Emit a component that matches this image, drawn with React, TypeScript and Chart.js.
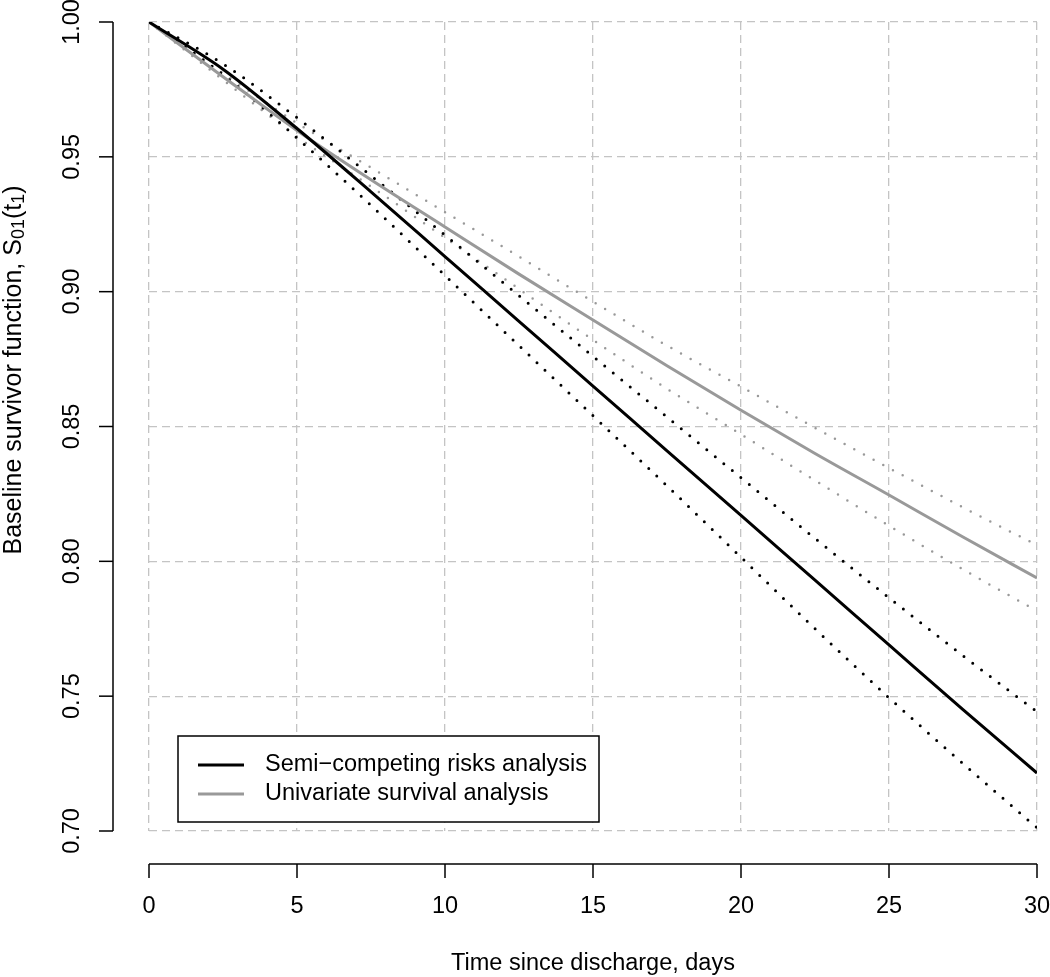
import React, { useEffect, useRef } from "react";
import { Chart, registerables } from "chart.js";

Chart.register(...registerables);

// time points (days)
const times = [0, 2.5, 5, 7.5, 10, 12.5, 15, 17.5, 20, 22.5, 25, 27.5, 30];

// Semi-competing risks analysis: estimate and pointwise bounds
const semiEstimate = [1.0, 0.9825, 0.9605, 0.937, 0.913, 0.889, 0.865, 0.841, 0.817, 0.793, 0.769, 0.745, 0.7215];
const semiUpper = [1.0, 0.9845, 0.9645, 0.943, 0.921, 0.8985, 0.876, 0.8535, 0.831, 0.8085, 0.7865, 0.765, 0.7442];
const semiLower = [1.0, 0.9805, 0.957, 0.932, 0.906, 0.88, 0.854, 0.828, 0.8015, 0.775, 0.7494, 0.725, 0.7012];

// Univariate survival analysis: estimate and pointwise bounds
const uniEstimate = [1.0, 0.9797, 0.9598, 0.9415, 0.924, 0.9065, 0.8895, 0.8725, 0.856, 0.84, 0.8246, 0.809, 0.7938];
const uniUpper = [1.0, 0.981, 0.9625, 0.946, 0.9295, 0.913, 0.8963, 0.88, 0.8648, 0.8495, 0.8346, 0.82, 0.806];
const uniLower = [1.0, 0.9785, 0.9575, 0.939, 0.92, 0.901, 0.8821, 0.864, 0.8471, 0.83, 0.8132, 0.797, 0.7816];

const xTicks = [0, 5, 10, 15, 20, 25, 30];
const yTicks = [0.7, 0.75, 0.8, 0.85, 0.9, 0.95, 1.0];
const yTickLabels = ["0.70", "0.75", "0.80", "0.85", "0.90", "0.95", "1.00"];

const legendLabels = ["Semi\u2212competing risks analysis", "Univariate survival analysis"];
const xTitle = "Time since discharge, days";

const FONT = '"Liberation Sans", Arial, Helvetica, sans-serif';
const BLACK = "#000000";
const GRAY = "#999999";
const FS = 23.5;
const YTITLE_FS = 25;

const pts = (vals: number[]) => times.map((t, i) => ({ x: t, y: vals[i] }));

const rAxesPlugin = {
  id: "rAxes",
  afterDraw(chart: any) {
    const ctx = chart.ctx as CanvasRenderingContext2D;
    const xs = chart.scales.x;
    const ys = chart.scales.y;
    const area = chart.chartArea;
    ctx.save();
    ctx.strokeStyle = "#000";
    ctx.fillStyle = "#000";
    ctx.lineWidth = 1.5;
    const mainFont = `${FS}px ${FONT}`;

    // y axis (detached)
    const yAxisX = area.left - 36;
    ctx.beginPath();
    ctx.moveTo(yAxisX, ys.getPixelForValue(0.7));
    ctx.lineTo(yAxisX, ys.getPixelForValue(1.0));
    ctx.stroke();
    ctx.font = mainFont;
    yTicks.forEach((v, i) => {
      const py = ys.getPixelForValue(v);
      ctx.beginPath();
      ctx.moveTo(yAxisX, py);
      ctx.lineTo(yAxisX - 14, py);
      ctx.stroke();
      ctx.save();
      ctx.translate(73, py);
      ctx.rotate(-Math.PI / 2);
      ctx.textAlign = "center";
      ctx.textBaseline = "middle";
      ctx.fillText(yTickLabels[i], 0, 0);
      ctx.restore();
    });

    // x axis (detached)
    const xAxisY = area.bottom + 33;
    ctx.beginPath();
    ctx.moveTo(xs.getPixelForValue(0), xAxisY);
    ctx.lineTo(xs.getPixelForValue(30), xAxisY);
    ctx.stroke();
    xTicks.forEach((v) => {
      const px = xs.getPixelForValue(v);
      ctx.beginPath();
      ctx.moveTo(px, xAxisY);
      ctx.lineTo(px, xAxisY + 14);
      ctx.stroke();
      ctx.textAlign = "center";
      ctx.textBaseline = "middle";
      ctx.fillText(String(v), px, 907);
    });

    // x title
    ctx.textAlign = "center";
    ctx.textBaseline = "middle";
    ctx.fillText(xTitle, (area.left + area.right) / 2, 964);

    // y title with subscripts
    const tFont = `${YTITLE_FS}px ${FONT}`;
    const sFont = `${Math.round(YTITLE_FS * 0.7)}px ${FONT}`;
    const parts: [string, boolean][] = [
      ["Baseline survivor function, S", false],
      ["01", true],
      ["(t", false],
      ["1", true],
      [")", false],
    ];
    let total = 0;
    parts.forEach(([s, sub]) => {
      ctx.font = sub ? sFont : tFont;
      total += ctx.measureText(s).width;
    });
    ctx.save();
    ctx.translate(14, 370);
    ctx.rotate(-Math.PI / 2);
    ctx.textAlign = "left";
    ctx.textBaseline = "middle";
    let cx = -total / 2;
    parts.forEach(([s, sub]) => {
      ctx.font = sub ? sFont : tFont;
      ctx.fillText(s, cx, sub ? 5 : 0);
      cx += ctx.measureText(s).width;
    });
    ctx.restore();

    // legend box
    const bx = 178, by = 736, bw = 421, bh = 86;
    ctx.fillStyle = "#fff";
    ctx.fillRect(bx, by, bw, bh);
    ctx.strokeStyle = "#000";
    ctx.lineWidth = 1.5;
    ctx.strokeRect(bx, by, bw, bh);
    const entries = [chart.data.datasets[0], chart.data.datasets[3]];
    entries.forEach((ds: any, i: number) => {
      const ly = 765 + i * 29;
      ctx.strokeStyle = ds.borderColor;
      ctx.lineWidth = 3;
      ctx.beginPath();
      ctx.moveTo(198, ly);
      ctx.lineTo(244, ly);
      ctx.stroke();
      ctx.fillStyle = "#000";
      ctx.font = mainFont;
      ctx.textAlign = "left";
      ctx.textBaseline = "middle";
      ctx.fillText(legendLabels[i], 265, ly);
    });
    ctx.restore();
  },
};

export default function App() {
  const canvasRef = useRef<HTMLCanvasElement | null>(null);

  useEffect(() => {
    if (!canvasRef.current) return;
    const solid = (label: string, vals: number[], color: string) => ({
      label,
      data: pts(vals),
      borderColor: color,
      backgroundColor: color,
      borderWidth: 3,
      pointRadius: 0,
      cubicInterpolationMode: "monotone" as const,
      order: 0,
    });
    const dotted = (label: string, vals: number[], color: string, w: number) => ({
      label,
      data: pts(vals),
      borderColor: color,
      backgroundColor: color,
      borderWidth: w,
      borderDash: [0, 11],
      borderCapStyle: "round" as const,
      pointRadius: 0,
      cubicInterpolationMode: "monotone" as const,
      order: 1,
    });
    const chart = new Chart(canvasRef.current, {
      type: "line",
      data: {
        datasets: [
          solid(legendLabels[0], semiEstimate, BLACK),
          dotted("Semi upper", semiUpper, BLACK, 3),
          dotted("Semi lower", semiLower, BLACK, 3),
          solid(legendLabels[1], uniEstimate, GRAY),
          dotted("Uni upper", uniUpper, GRAY, 2.5),
          dotted("Uni lower", uniLower, GRAY, 2.5),
        ],
      },
      options: {
        animation: false,
        responsive: false,
        maintainAspectRatio: false,
        layout: { padding: { left: 149, right: 13, top: 22, bottom: 146 } },
        plugins: { legend: { display: false }, tooltip: { enabled: false } },
        scales: {
          x: {
            type: "linear",
            min: 0,
            max: 30,
            ticks: { display: false, stepSize: 5 },
            border: { display: false, dash: [8, 5] },
            grid: { color: "#c4c4c4", lineWidth: 1.3, drawTicks: false },
          },
          y: {
            type: "linear",
            min: 0.7,
            max: 1.0,
            ticks: { display: false, stepSize: 0.05 },
            border: { display: false, dash: [8, 5] },
            grid: { color: "#c4c4c4", lineWidth: 1.3, drawTicks: false },
          },
        },
      },
      plugins: [rAxesPlugin],
    });
    return () => chart.destroy();
  }, []);

  return (
    <div style={{ position: "absolute", left: 0, top: 0, width: 1050, height: 977, background: "#fff" }}>
      <canvas ref={canvasRef} width={1050} height={977} style={{ width: 1050, height: 977, display: "block" }} />
    </div>
  );
}
